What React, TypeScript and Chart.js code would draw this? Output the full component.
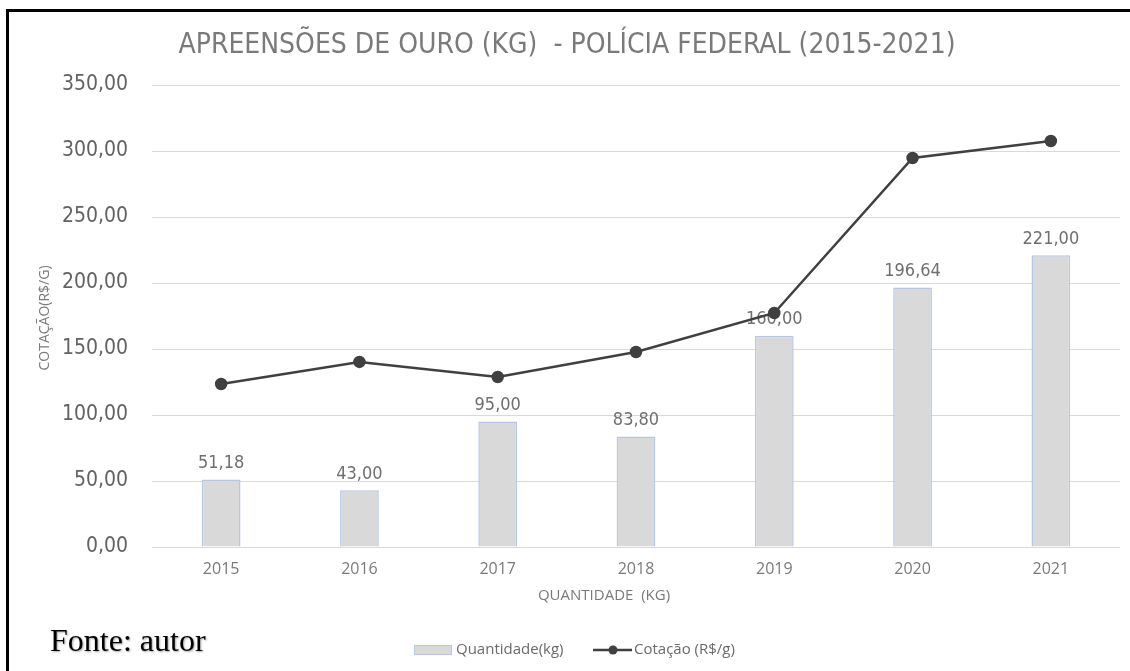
import React, { useEffect, useRef } from "react";
import { Chart, registerables } from "chart.js";

Chart.register(...registerables);

const years = ["2015", "2016", "2017", "2018", "2019", "2020", "2021"];
const quantidade = [51.18, 43.0, 95.0, 83.8, 160.0, 196.64, 221.0];
const cotacao = [123.5, 140.2, 128.8, 147.7, 177.3, 294.7, 307.6];
const yMin = 0;
const yMax = 350;
const yStep = 50;

const chartTitle = "APREENSÕES DE OURO (KG)  - POLÍCIA FEDERAL (2015-2021)";
const yTitle = "COTAÇÃO(R$/G)";
const xTitle = "QUANTIDADE  (KG)";
const sourceNote = "Fonte: autor";
const seriesBarName = "Quantidade(kg)";
const seriesLineName = "Cotação (R$/g)";

const DIN = '"DejaVu Sans Condensed", "DejaVu Sans", Roboto, sans-serif';
const CAL = '"Open Sans", "Noto Sans", sans-serif';

const fmt = (v: number) => v.toFixed(2).replace(".", ",");

const decorPlugin = {
  id: "decor",
  beforeDatasetsDraw(chart: any) {
    const ctx = chart.ctx;
    const meta = chart.getDatasetMeta(0);
    ctx.save();
    ctx.font = `18px ${DIN}`;
    ctx.fillStyle = "#6f6f6f";
    ctx.textAlign = "center";
    ctx.textBaseline = "bottom";
    meta.data.forEach((el: any, i: number) => {
      ctx.fillText(fmt(quantidade[i]), el.x, el.y - 7);
    });
    ctx.restore();
  },
  afterDraw(chart: any) {
    const ctx = chart.ctx;
    ctx.save();
    // frame
    ctx.fillStyle = "#000";
    ctx.fillRect(6, 9, 3, 671 - 9);
    ctx.fillRect(6, 9, 1130 - 6, 3);

    // title
    ctx.fillStyle = "#7a7a7a";
    ctx.font = `28px ${DIN}`;
    ctx.textAlign = "center";
    ctx.textBaseline = "middle";
    ctx.fillText(chartTitle, 567, 46);

    // y title
    ctx.save();
    ctx.translate(45, 318);
    ctx.rotate(-Math.PI / 2);
    ctx.font = `14px ${CAL}`;
    ctx.fillStyle = "#7a7a7a";
    ctx.textAlign = "center";
    ctx.textBaseline = "middle";
    ctx.fillText(yTitle, 0, 0);
    ctx.restore();

    // x title
    ctx.font = `15px ${CAL}`;
    ctx.fillStyle = "#7a7a7a";
    ctx.textAlign = "center";
    ctx.textBaseline = "middle";
    ctx.fillText(xTitle, 604, 596);

    // legend
    const ly = 650;
    ctx.fillStyle = "#d9d9d9";
    ctx.fillRect(414, ly - 5, 38, 10);
    ctx.strokeStyle = "#b4c7e7";
    ctx.lineWidth = 1;
    ctx.strokeRect(414.5, ly - 4.5, 37, 9);
    ctx.font = `15px ${CAL}`;
    ctx.fillStyle = "#6a6a6a";
    ctx.textAlign = "left";
    ctx.textBaseline = "middle";
    ctx.fillText(seriesBarName, 456, ly);
    ctx.strokeStyle = "#404040";
    ctx.lineWidth = 2.5;
    ctx.beginPath();
    ctx.moveTo(593, ly);
    ctx.lineTo(632, ly);
    ctx.stroke();
    ctx.fillStyle = "#404040";
    ctx.beginPath();
    ctx.arc(613, ly, 4.5, 0, Math.PI * 2);
    ctx.fill();
    ctx.fillStyle = "#6a6a6a";
    ctx.fillText(seriesLineName, 634, ly);

    // source note
    ctx.font = `32px "Liberation Serif", "Times New Roman", serif`;
    ctx.fillStyle = "#000";
    ctx.textAlign = "left";
    ctx.textBaseline = "alphabetic";
    ctx.shadowColor = "rgba(0,0,0,0.35)";
    ctx.shadowBlur = 2;
    ctx.shadowOffsetX = 1;
    ctx.shadowOffsetY = 1;
    ctx.fillText(sourceNote, 50, 651);
    ctx.restore();
  },
};

export default function App() {
  const ref = useRef<HTMLCanvasElement | null>(null);
  useEffect(() => {
    if (!ref.current) return;
    const chart = new Chart(ref.current, {
      type: "bar",
      data: {
        labels: years,
        datasets: [
          {
            type: "bar",
            label: seriesBarName,
            data: quantidade,
            backgroundColor: "#d9d9d9",
            borderColor: "#b4c7e7",
            borderWidth: 1.5,
            borderSkipped: "bottom",
            barPercentage: 0.28,
            categoryPercentage: 1,
            order: 1,
          },
          {
            type: "line",
            label: seriesLineName,
            data: cotacao,
            borderColor: "#404040",
            backgroundColor: "#404040",
            borderWidth: 2.5,
            pointRadius: 5,
            pointBackgroundColor: "#404040",
            pointBorderColor: "#404040",
            tension: 0,
            order: 0,
          },
        ],
      },
      options: {
        animation: false,
        responsive: false,
        layout: { padding: { top: 85, right: 10, left: 0, bottom: 0 } },
        plugins: {
          legend: { display: false },
          title: { display: false },
          tooltip: { enabled: false },
        },
        scales: {
          x: {
            grid: { display: false, drawTicks: false },
            border: { display: false },
            ticks: {
              color: "#7a7a7a",
              font: { family: CAL, size: 16 },
              padding: 13,
            },
            afterFit: (s: any) => {
              s.height = 671 - 547;
            },
          },
          y: {
            min: yMin,
            max: yMax,
            grid: { color: "#d9d9d9", lineWidth: 1, drawTicks: false },
            border: { display: false },
            ticks: {
              stepSize: yStep,
              color: "#626262",
              font: { family: DIN, size: 21 },
              padding: 24,
              callback: (v: any) => fmt(Number(v)),
            },
            afterFit: (s: any) => {
              s.width = 152;
            },
          },
        },
      },
      plugins: [decorPlugin],
    });
    return () => chart.destroy();
  }, []);
  return (
    <div style={{ position: "absolute", left: 0, top: 0, width: 1130, height: 671, background: "#fff" }}>
      <canvas ref={ref} width={1130} height={671} style={{ width: 1130, height: 671, display: "block" }} />
    </div>
  );
}
